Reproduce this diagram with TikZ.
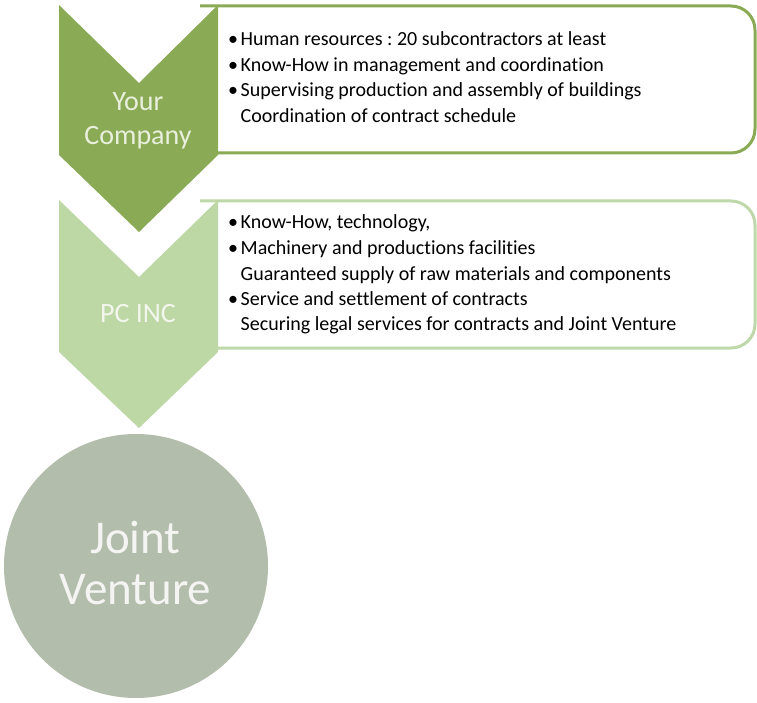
\documentclass[tikz,border=0pt]{standalone}
\usepackage{fontspec}
\setmainfont{Carlito}[Ligatures=NoCommon]
\definecolor{darkgreen}{HTML}{8AAA55}
\definecolor{lightgreen}{HTML}{BDD7A5}
\definecolor{lightborder}{HTML}{BFD8A9}
\definecolor{circlegray}{HTML}{B3BDAB}
\definecolor{labelone}{HTML}{E9F0DD}
\definecolor{labeltwo}{HTML}{F2F6EC}
\definecolor{labelthree}{HTML}{F4F4F2}
\frenchspacing
\begin{document}
\begin{tikzpicture}[x=1pt,y=-1pt,
  boxline/.style={line width=3pt, rounded corners=24pt},
  item/.style={anchor=base west, inner sep=0pt, font=\fontsize{20}{24}\selectfont, text=black},
  chevlabel/.style={anchor=base, inner sep=0pt, font=\fontsize{28}{34}\selectfont},
  jvlabel/.style={anchor=base, inner sep=0pt, font=\fontsize{47}{54}\selectfont, text=labelthree}]
\useasboundingbox (0,0) rectangle (757,703);
\fill[white] (0,0) rectangle (757,703);
% boxes
\draw[boxline, darkgreen] (200,6) -- (755,6) -- (755,153) -- (200,153);
\draw[boxline, lightborder] (200,201) -- (755,201) -- (755,348) -- (200,348);
% chevrons
\fill[darkgreen] (59,5) -- (139,83) -- (218,5) -- (218,155) -- (139,232) -- (59,155) -- cycle;
\fill[lightgreen] (59,200) -- (139,277) -- (218,200) -- (218,352) -- (139,428) -- (59,352) -- cycle;
% circle
\fill[circlegray] (136,566) circle[radius=132];
% chevron labels
\node[chevlabel, text=labelone] (yc1) at (138,111) {Your};
\node[chevlabel, text=labelone] (yc2) at (138,145) {Company};
\node[chevlabel, text=labeltwo, font=\fontsize{28}{33}\selectfont] (pc) at (138,322) {PC INC};
\node[jvlabel] (jv1) at (135.5,553) {Joint};
\node[jvlabel] (jv2) at (135.5,604) {Venture};
% box 1 text
\newcommand{\bul}{\llap{\textbullet\hspace{2.5pt}}}
\node[item] (a1) at (240.5,46) {\bul Human resources : 20 subcontractors at least};
\node[item] (a2) at (240.5,71.7) {\bul Know-How in management and coordination};
\node[item] (a3) at (240.5,97) {\bul Supervising production and assembly of buildings};
\node[item] (a4) at (240.5,122.5) {Coordination of contract schedule};
% box 2 text
\node[item] (b1) at (240.5,229) {\bul Know-How, technology,};
\node[item] (b2) at (240.5,254.5) {\bul Machinery and productions facilities};
\node[item] (b3) at (240.5,280) {Guaranteed supply of raw materials and components};
\node[item] (b4) at (240.5,305) {\bul Service and settlement of contracts};
\node[item] (b5) at (240.5,330.5) {Securing legal services for contracts and Joint Venture};
\end{tikzpicture}
\end{document}
